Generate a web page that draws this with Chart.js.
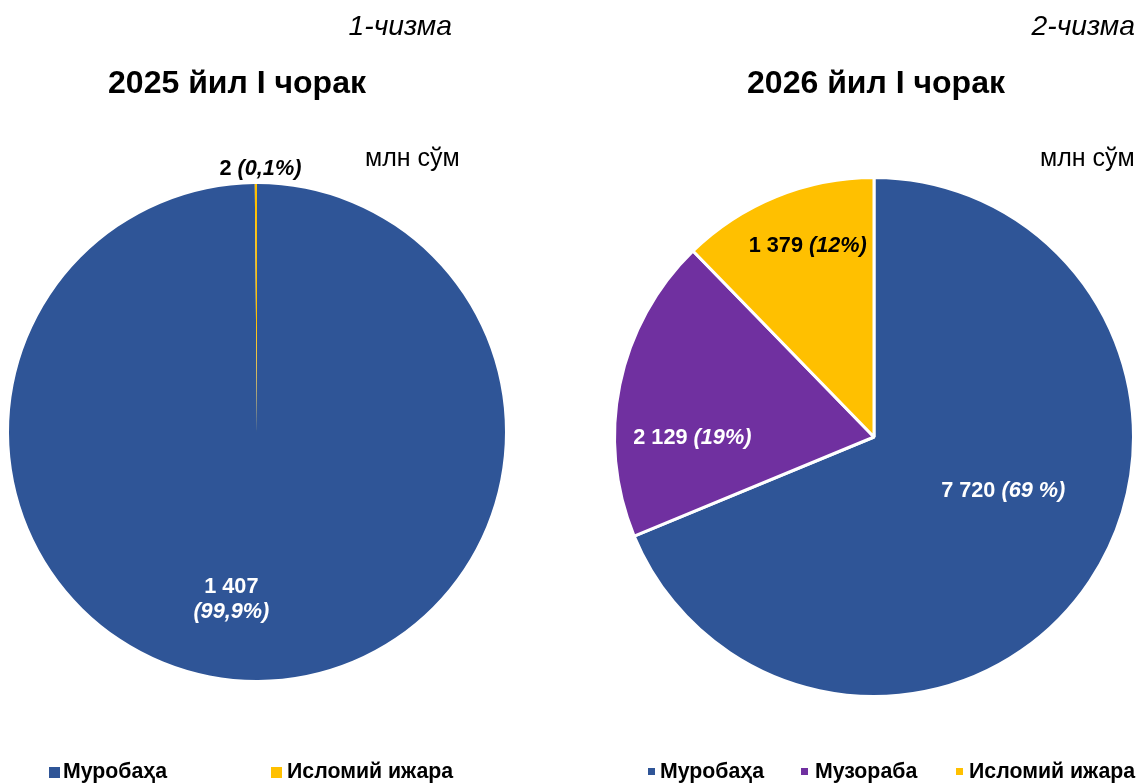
<!DOCTYPE html>
<html>
<head>
<meta charset="utf-8">
<script src="https://cdn.jsdelivr.net/npm/chart.js@4.4.1/dist/chart.umd.min.js"></script>
<style>
body { margin: 0; background: #fff; font-family: "Liberation Sans", Arial, sans-serif; }
#wrap { position: relative; width: 1141px; height: 783px; overflow: hidden; }
canvas { position: absolute; top: 0; }
.t { position: absolute; white-space: nowrap; color: #000; line-height: 1; }
.num { font-style: italic; font-size: 28.3px; }
.ttl { font-weight: bold; font-size: 32px; transform: translateX(-50%); }
.unit { font-size: 25px; }
.leg { position: absolute; top: 761px; font-weight: bold; font-size: 21.3px; white-space: nowrap; line-height: 1; }
.sq { position: absolute; }
</style>
</head>
<body>
<div id="wrap">
  <canvas id="pie1" width="570" height="783" style="left:0"></canvas>
  <canvas id="pie2" width="571" height="783" style="left:570px"></canvas>

  <div class="t num" style="right:689px; top:11px">1-чизма</div>
  <div class="t num" style="right:6px; top:11px">2-чизма</div>
  <div class="t ttl" style="left:237px; top:66px">2025 йил I чорак</div>
  <div class="t ttl" style="left:876px; top:66px">2026 йил I чорак</div>
  <div class="t unit" style="left:365px; top:145px">млн сўм</div>
  <div class="t unit" style="left:1040px; top:145px">млн сўм</div>
  <div id="legend1"></div>
  <div id="legend2"></div>
</div>

<script>
// 1-чизма: 2025 йил I чорак
const categories2025 = ['Муробаҳа', 'Исломий ижара'];
const values2025 = [1407, 2];
const shares2025 = ['99,9%', '0,1%'];

// 2-чизма: 2026 йил I чорак
const categories2026 = ['Муробаҳа', 'Музораба', 'Исломий ижара'];
const values2026 = [7720, 2129, 1379];
const shares2026 = ['69 %', '19%', '12%'];

const BLUE = '#2F5597', PURPLE = '#7030A0', YELLOW = '#FFC000';
const colors2025 = [BLUE, YELLOW];
const colors2026 = [BLUE, PURPLE, YELLOW];

const FONT = '"Liberation Sans", Arial, sans-serif';

function fmt(n) {
    return String(n).replace(/\B(?=(\d{3})+(?!\d))/g, ' ');
}

function drawParts(ctx, parts, x, y) {
    let total = 0;
    parts.forEach(p => { ctx.font = p[1]; total += ctx.measureText(p[0]).width; });
    let cx = x - total / 2;
    parts.forEach(p => {
        ctx.font = p[1];
        ctx.fillText(p[0], cx, y);
        cx += ctx.measureText(p[0]).width;
    });
}

// value labels inside / next to slices
const sliceLabels = {
    id: 'sliceLabels',
    afterDatasetsDraw(chart, args, opts) {
        const ctx = chart.ctx;
        const ds = chart.data.datasets[0];
        const bold = 'bold 21.7px ' + FONT;
        const ital = 'italic bold 21.7px ' + FONT;
        chart.getDatasetMeta(0).data.forEach((arc, i) => {
            const p = opts.place[i];
            const ang = (arc.startAngle + arc.endAngle) / 2 + p.shift * Math.PI / 180;
            const r = arc.outerRadius * p.r;
            const x = arc.x + Math.cos(ang) * r;
            const y = arc.y + Math.sin(ang) * r;
            const val = fmt(ds.data[i]);
            const pct = '(' + opts.shares[i] + ')';
            ctx.save();
            ctx.fillStyle = p.color;
            ctx.textBaseline = 'middle';
            if (p.twoLines) {
                drawParts(ctx, [[val, bold]], x, y - 12);
                drawParts(ctx, [[pct, ital]], x, y + 13);
            } else {
                drawParts(ctx, [[val + ' ', bold], [pct, ital]], x, y);
            }
            ctx.restore();
        });
    }
};

function makePie(id, labels, values, colors, border, padding, shares, place) {
    return new Chart(document.getElementById(id), {
        type: 'pie',
        data: {
            labels: labels,
            datasets: [{
                data: values,
                backgroundColor: colors,
                borderColor: '#ffffff',
                borderWidth: border,
                hoverOffset: 0
            }]
        },
        options: {
            responsive: false,
            animation: false,
            layout: { padding: padding },
            plugins: {
                legend: { display: false },
                tooltip: { enabled: false },
                sliceLabels: { shares: shares, place: place }
            }
        },
        plugins: [sliceLabels]
    });
}

makePie('pie1', categories2025, values2025, colors2025, 0,
    { left: 9, top: 184, right: 65, bottom: 103 }, shares2025,
    [
        { r: 0.68, shift: 9, color: '#ffffff', twoLines: true },
        { r: 1.062, shift: 1, color: '#000000' }
    ]);

makePie('pie2', categories2026, values2026, colors2026, 3,
    { left: 43, top: 176, right: 6, bottom: 85 }, shares2026,
    [
        { r: 0.54, shift: -11, color: '#ffffff' },
        { r: 0.70, shift: -12, color: '#ffffff' },
        { r: 0.78, shift: 3, color: '#000000' }
    ]);

// legends (squares + bold names along the bottom)
function buildLegend(elId, labels, colors, boxLefts, textLefts, box, boxTop) {
    const el = document.getElementById(elId);
    labels.forEach((lab, i) => {
        const sq = document.createElement('div');
        sq.className = 'sq';
        sq.style.cssText = 'left:' + boxLefts[i] + 'px;top:' + boxTop + 'px;width:' + box +
            'px;height:' + box + 'px;background:' + colors[i];
        el.appendChild(sq);
        const d = document.createElement('div');
        d.className = 'leg';
        d.style.left = textLefts[i] + 'px';
        d.textContent = lab;
        el.appendChild(d);
    });
}
buildLegend('legend1', categories2025, colors2025, [49, 271], [63, 287], 11, 767);
buildLegend('legend2', categories2026, colors2026, [648, 801, 956], [660, 815, 969], 7, 768);
</script>
</body>
</html>
